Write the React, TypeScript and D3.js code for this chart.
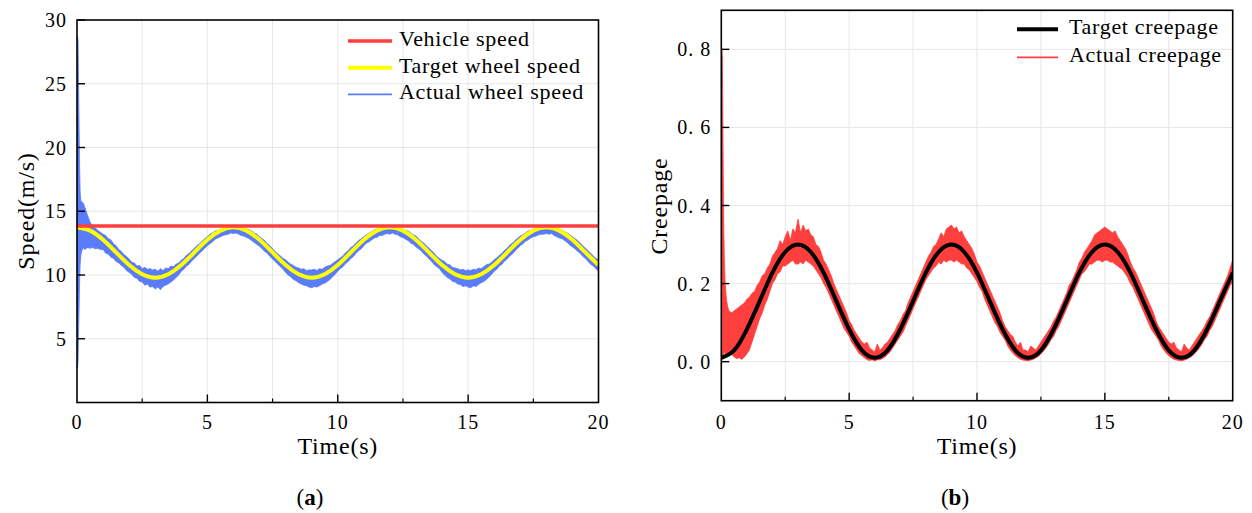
import React from 'react';
import * as d3 from 'd3';

// ---------------- data ----------------
// Panel (a): speeds in m/s
const vehicleTime = [0, 20];
const vehicleSpeed = [13.85, 13.85];

const targetTime = [0, 0.5, 1, 1.5, 2, 2.5, 3, 3.5, 4, 4.5, 5, 5.5, 6, 6.5, 7, 7.5, 8, 8.5, 9, 9.5, 10,
  10.5, 11, 11.5, 12, 12.5, 13, 13.5, 14, 14.5, 15, 15.5, 16, 16.5, 17, 17.5, 18, 18.5, 19, 19.5, 20];
const targetWheelSpeed = [13.75, 13.48, 12.76, 11.77, 10.78, 10.06, 9.79, 10.06, 10.78, 11.77, 12.76, 13.48,
  13.75, 13.48, 12.76, 11.77, 10.78, 10.06, 9.79, 10.06, 10.78, 11.77, 12.76, 13.48,
  13.75, 13.48, 12.76, 11.77, 10.78, 10.06, 9.79, 10.06, 10.78, 11.77, 12.76, 13.48,
  13.75, 13.48, 12.76, 11.77, 10.78];

// start-up transient (fine time steps)
const earlyTime = [0, 0.02, 0.04, 0.06, 0.08, 0.1, 0.12, 0.15, 0.2, 0.25, 0.3, 0.4, 0.5, 0.6, 0.7, 0.8, 0.9];
const wheelUpperEarly = [24.5, 28.7, 28.4, 25.0, 21.5, 18.5, 16.5, 15.8, 15.7, 15.6, 15.3, 14.7, 14.15, 13.85, 13.7, 13.5, 13.35];
const wheelLowerEarly = [4.0, 2.7, 3.2, 5.5, 7.5, 9.5, 10.8, 11.6, 12.0, 12.1, 12.0, 12.15, 12.1, 12.15, 12.05, 12.1, 12.0];

// envelope of the noisy actual wheel speed, t = 1.0 ... 20.0 every 0.1 s
const wheelUpper = [
  13.2, 13.1, 12.85, 12.75, 12.45, 12.3, 12.0, 11.85, 11.6, 11.45,
  11.25, 11.0, 10.95, 10.7, 10.75, 10.5, 10.6, 10.45, 10.5, 10.4,
  10.45, 10.3, 10.5, 10.35, 10.55, 10.5, 10.7, 10.65, 10.85, 10.95,
  11.15, 11.3, 11.55, 11.7, 11.9, 12.1, 12.3, 12.45, 12.65, 12.85,
  13.0, 13.2, 13.3, 13.45, 13.5, 13.6, 13.7, 13.75, 13.8, 13.8,
  13.82, 13.8, 13.78, 13.75, 13.7, 13.62, 13.55, 13.45, 13.3, 13.2,
  13.0, 12.85, 12.7, 12.45, 12.3, 12.05, 11.85, 11.65, 11.5, 11.3,
  11.2, 11.0, 10.85, 10.75, 10.6, 10.55, 10.45, 10.5, 10.35, 10.4,
  10.4, 10.45, 10.35, 10.5, 10.45, 10.6, 10.7, 10.75, 10.9, 11.05,
  11.2, 11.35, 11.5, 11.75, 11.9, 12.15, 12.3, 12.5, 12.7, 12.85,
  13.0, 13.15, 13.3, 13.4, 13.55, 13.6, 13.7, 13.72, 13.8, 13.78,
  13.8, 13.82, 13.75, 13.75, 13.68, 13.6, 13.5, 13.45, 13.3, 13.15,
  13.05, 12.85, 12.65, 12.5, 12.3, 12.1, 11.9, 11.7, 11.45, 11.3,
  11.15, 11.05, 10.85, 10.8, 10.6, 10.55, 10.5, 10.4, 10.45, 10.35,
  10.4, 10.35, 10.45, 10.4, 10.55, 10.5, 10.65, 10.8, 10.85, 11.0,
  11.2, 11.35, 11.55, 11.7, 11.95, 12.1, 12.35, 12.5, 12.7, 12.9,
  13.05, 13.15, 13.3, 13.45, 13.5, 13.62, 13.68, 13.75, 13.78, 13.8,
  13.8, 13.8, 13.78, 13.72, 13.7, 13.6, 13.52, 13.4, 13.3, 13.15,
  13.0, 12.85, 12.7, 12.5, 12.3, 12.1, 11.9, 11.7, 11.5, 11.3,
  11.2];
const wheelLower = [
  12.0, 11.7, 11.65, 11.4, 11.3, 11.05, 10.95, 10.75, 10.6, 10.35,
  10.2, 10.05, 9.8, 9.75, 9.5, 9.45, 9.2, 9.3, 9.05, 9.1,
  8.9, 9.05, 8.85, 9.1, 9.2, 9.3, 9.45, 9.6, 9.8, 10.0,
  10.3, 10.45, 10.7, 10.85, 11.1, 11.3, 11.5, 11.7, 11.9, 12.1,
  12.3, 12.45, 12.6, 12.8, 12.9, 13.0, 13.1, 13.15, 13.2, 13.3,
  13.25, 13.3, 13.2, 13.1, 13.05, 12.95, 12.85, 12.7, 12.55, 12.4,
  12.25, 12.05, 11.85, 11.7, 11.45, 11.25, 11.05, 10.85, 10.65, 10.45,
  10.2, 10.0, 9.85, 9.65, 9.55, 9.4, 9.3, 9.2, 9.15, 9.05,
  9.0, 9.1, 9.05, 9.15, 9.3, 9.35, 9.5, 9.65, 9.85, 10.05,
  10.3, 10.5, 10.65, 10.9, 11.05, 11.3, 11.45, 11.7, 11.9, 12.05,
  12.3, 12.5, 12.6, 12.75, 12.9, 12.95, 13.1, 13.1, 13.2, 13.25,
  13.2, 13.3, 13.2, 13.15, 13.0, 12.95, 12.8, 12.7, 12.5, 12.4,
  12.2, 12.05, 11.9, 11.65, 11.5, 11.25, 11.05, 10.8, 10.65, 10.5,
  10.2, 10.0, 9.8, 9.7, 9.5, 9.45, 9.3, 9.25, 9.1, 9.15,
  9.05, 9.0, 9.15, 9.1, 9.25, 9.4, 9.5, 9.65, 9.85, 10.05,
  10.3, 10.45, 10.7, 10.85, 11.1, 11.25, 11.5, 11.65, 11.9, 12.1,
  12.3, 12.45, 12.65, 12.75, 12.9, 13.0, 13.05, 13.15, 13.2, 13.2,
  13.25, 13.2, 13.25, 13.1, 13.0, 12.9, 12.85, 12.7, 12.55, 12.35,
  12.2, 12.05, 11.85, 11.7, 11.45, 11.3, 11.05, 10.85, 10.7, 10.5,
  10.3];

// Panel (b): creepage
const targetCreepage = [0.010, 0.029, 0.083, 0.155, 0.228, 0.281, 0.300, 0.281, 0.228, 0.155, 0.083, 0.029,
  0.010, 0.029, 0.083, 0.155, 0.228, 0.281, 0.300, 0.281, 0.228, 0.155, 0.083, 0.029,
  0.010, 0.029, 0.083, 0.155, 0.228, 0.281, 0.300, 0.281, 0.228, 0.155, 0.083, 0.029,
  0.010, 0.029, 0.083, 0.155, 0.228];

const creepUpperEarly = [0.72, 0.80, 0.78, 0.62, 0.45, 0.33, 0.26, 0.2, 0.16, 0.14, 0.13, 0.125, 0.13, 0.135, 0.14, 0.145, 0.15];
const creepLowerEarly = [0.01, 0.008, 0.01, 0.012, 0.015, 0.02, 0.025, 0.022, 0.018, 0.02, 0.015, 0.02, 0.012, 0.008, 0.01, 0.006, 0.012];

const creepUpper = [
  .16, .165, .175, .18, .195, .205, .22, .225, .24, .25,
  .27, .28, .29, .31, .30, .32, .335, .31, .34, .33,
  .365, .33, .35, .335, .34, .325, .32, .30, .295, .28,
  .26, .25, .235, .22, .2, .185, .17, .155, .14, .125,
  .105, .095, .08, .07, .06, .05, .045, .05, .035, .03,
  .025, .045, .03, .035, .045, .05, .06, .07, .08, .095,
  .105, .12, .13, .15, .165, .18, .195, .21, .225, .24,
  .255, .27, .28, .295, .3, .315, .33, .32, .34, .345,
  .35, .34, .345, .33, .335, .32, .31, .3, .29, .275,
  .255, .245, .23, .215, .2, .185, .17, .155, .14, .125,
  .105, .09, .08, .07, .065, .05, .04, .05, .03, .03,
  .025, .04, .035, .03, .04, .05, .06, .07, .08, .09,
  .105, .115, .13, .145, .16, .175, .195, .205, .22, .235,
  .255, .265, .28, .29, .3, .31, .325, .33, .335, .34,
  .345, .34, .335, .33, .335, .32, .31, .3, .29, .275,
  .255, .24, .23, .215, .2, .185, .17, .155, .14, .125,
  .105, .09, .08, .07, .06, .05, .045, .05, .035, .03,
  .025, .045, .035, .03, .04, .05, .06, .07, .08, .09,
  .105, .115, .13, .145, .16, .175, .19, .205, .22, .24,
  .26];
const creepLower = [
  .02, .03, .05, .07, .09, .11, .125, .145, .16, .18,
  .2, .21, .225, .23, .245, .245, .25, .255, .26, .25,
  .25, .255, .25, .26, .255, .25, .245, .235, .225, .215,
  .2, .19, .175, .16, .145, .13, .115, .1, .085, .075,
  .065, .05, .04, .03, .02, .015, .01, .005, .003, .005,
  .002, .005, .005, .008, .012, .018, .025, .035, .045, .055,
  .065, .075, .09, .105, .12, .135, .15, .165, .18, .195,
  .21, .22, .23, .24, .245, .255, .25, .26, .255, .26,
  .26, .255, .26, .255, .25, .25, .24, .235, .225, .215,
  .205, .19, .18, .16, .145, .13, .115, .1, .09, .075,
  .065, .055, .04, .03, .022, .015, .01, .006, .004, .003,
  .002, .004, .006, .01, .013, .02, .027, .035, .045, .057,
  .065, .08, .09, .105, .12, .135, .15, .165, .18, .195,
  .21, .225, .23, .24, .25, .25, .255, .26, .26, .255,
  .26, .26, .255, .255, .25, .245, .24, .235, .225, .215,
  .2, .19, .175, .16, .145, .13, .115, .1, .085, .075,
  .065, .055, .04, .03, .022, .015, .01, .006, .004, .003,
  .002, .004, .006, .01, .013, .02, .027, .035, .045, .057,
  .065, .08, .09, .105, .12, .135, .15, .165, .18, .195,
  .205];

// axis ticks
const xTicks = [0, 5, 10, 15, 20];
const xMinorTicks = [2.5, 7.5, 12.5, 17.5];
const xGrid = [2.5, 5, 7.5, 10, 12.5, 15, 17.5];
const speedTicks = [5, 10, 15, 20, 25, 30];
const speedGrid = [5, 10, 15, 20, 25];
const creepTicks = [0, 0.2, 0.4, 0.6, 0.8];
const creepTickLabels = ['0. 0', '0. 2', '0. 4', '0. 6', '0. 8'];

// ---------------- drawing ----------------
const FONT = '"Liberation Serif", "Times New Roman", Times, serif';
const BLUE = '#5b7cfa';
const YELLOW = '#ffff00';
const RED = '#ff3e3e';
const GRID = '#e6e6e6';

const mainTime = d3.range(10, 201).map((i) => i / 10);
const bandTime = earlyTime.concat(mainTime);

type Band = { t: number; lo: number; hi: number };

function makeBand(upperE: number[], lowerE: number[], upper: number[], lower: number[]): Band[] {
  const hi = upperE.concat(upper);
  const lo = lowerE.concat(lower);
  return bandTime.map((t, i) => ({ t, lo: lo[i], hi: hi[i] }));
}

const wheelBand = makeBand(wheelUpperEarly, wheelLowerEarly, wheelUpper, wheelLower);
const creepBand = makeBand(creepUpperEarly, creepLowerEarly, creepUpper, creepLower);

interface PanelProps {
  id: string;
  x: d3.ScaleLinear<number, number>;
  y: d3.ScaleLinear<number, number>;
  yTicks: number[];
  yLabels: string[];
  yGrid: number[];
  yTitle: string;
  yTitleX: number;
  yTitleY: number;
  children?: React.ReactNode;
}

function Panel({ id, x, y, yTicks, yLabels, yGrid, yTitle, yTitleX, yTitleY, children }: PanelProps) {
  const [x0, x1] = x.range();
  const [y0, y1] = y.range(); // y0 bottom, y1 top
  return (
    <g>
      <defs>
        <clipPath id={id}>
          <rect x={x0} y={y1} width={x1 - x0} height={y0 - y1} />
        </clipPath>
      </defs>
      {xGrid.map((v) => (
        <line key={'gx' + v} x1={x(v)} x2={x(v)} y1={y0} y2={y1} stroke={GRID} strokeWidth={1} />
      ))}
      {yGrid.map((v) => (
        <line key={'gy' + v} x1={x0} x2={x1} y1={y(v)} y2={y(v)} stroke={GRID} strokeWidth={1} />
      ))}
      <g clipPath={`url(#${id})`}>{children}</g>
      <rect x={x0} y={y1} width={x1 - x0} height={y0 - y1} fill="none" stroke="#000" strokeWidth={1.6} />
      {xTicks.slice(1, -1).map((v) => (
        <line key={'tx' + v} x1={x(v)} x2={x(v)} y1={y0} y2={y0 - 8} stroke="#000" strokeWidth={1.4} />
      ))}
      {xMinorTicks.map((v) => (
        <line key={'mx' + v} x1={x(v)} x2={x(v)} y1={y0} y2={y0 - 4} stroke="#000" strokeWidth={1.2} />
      ))}
      {yTicks.map((v) => (
        <line key={'ty' + v} x1={x0} x2={x0 + 8} y1={y(v)} y2={y(v)} stroke="#000" strokeWidth={1.4} />
      ))}
      {xTicks.map((v) => (
        <text key={'lx' + v} x={x(v)} y={429} textAnchor="middle" fontSize={20} fontFamily={FONT} letterSpacing={1}>
          {v}
        </text>
      ))}
      {yTicks.map((v, i) => (
        <text key={'ly' + v} x={x0 - 10} y={y(v)} dy="0.35em" textAnchor="end" fontSize={20} fontFamily={FONT} letterSpacing={1}>
          {yLabels[i]}
        </text>
      ))}
      <text x={(x0 + x1) / 2} y={454} textAnchor="middle" fontSize={24} fontFamily={FONT} letterSpacing={0.8}>
        Time(s)
      </text>
      <text transform={`translate(${yTitleX},${yTitleY}) rotate(-90)`} textAnchor="middle" fontSize={24} fontFamily={FONT} letterSpacing={0.8}>
        {yTitle}
      </text>
    </g>
  );
}

export default function App() {
  const xA = d3.scaleLinear().domain([0, 20]).range([77, 598.5]);
  const yA = d3.scaleLinear().domain([0, 30]).range([402.5, 20]);
  const xB = d3.scaleLinear().domain([0, 20]).range([721.3, 1232.7]);
  const yB = d3.scaleLinear().domain([-0.1, 0.9]).range([400.7, 10.3]);

  const bandA = d3.area<Band>().x((d) => xA(d.t)).y0((d) => yA(d.lo)).y1((d) => yA(d.hi));
  const bandB = d3.area<Band>().x((d) => xB(d.t)).y0((d) => yB(d.lo)).y1((d) => yB(d.hi));

  const targetLineA = d3
    .line<number>()
    .x((_, i) => xA(targetTime[i]))
    .y((d) => yA(d))
    .curve(d3.curveNatural);
  const vehicleLine = d3
    .line<number>()
    .x((_, i) => xA(vehicleTime[i]))
    .y((d) => yA(d));
  const targetLineB = d3
    .line<number>()
    .x((_, i) => xB(targetTime[i]))
    .y((d) => yB(d))
    .curve(d3.curveNatural);

  const legendText = { fontSize: 22, fontFamily: FONT, letterSpacing: 0.7 } as const;

  return (
    <svg width={1252} height={513} style={{ position: 'absolute', left: 0, top: 0, background: '#fff' }}>
      <rect x={0} y={0} width={1252} height={513} fill="#fff" />
      <Panel
        id="clipA"
        x={xA}
        y={yA}
        yTicks={speedTicks}
        yLabels={speedTicks.map(String)}
        yGrid={speedGrid}
        yTitle="Speed(m/s)"
        yTitleX={34}
        yTitleY={211}
      >
        <path d={bandA(wheelBand) || ''} fill={BLUE} stroke={BLUE} strokeWidth={0.8} />
        <path d={targetLineA(targetWheelSpeed) || ''} fill="none" stroke={YELLOW} strokeWidth={4} />
        <path d={vehicleLine(vehicleSpeed) || ''} fill="none" stroke={RED} strokeWidth={3.5} />
      </Panel>
      <Panel
        id="clipB"
        x={xB}
        y={yB}
        yTicks={creepTicks}
        yLabels={creepTickLabels}
        yGrid={creepTicks}
        yTitle="Creepage"
        yTitleX={667}
        yTitleY={206}
      >
        <path d={bandB(creepBand) || ''} fill={RED} stroke={RED} strokeWidth={0.8} />
        <path d={targetLineB(targetCreepage) || ''} fill="none" stroke="#000" strokeWidth={4} />
      </Panel>

      {/* legend (a) */}
      <line x1={348} x2={392} y1={41} y2={41} stroke={RED} strokeWidth={3.5} />
      <text x={399} y={46} {...legendText}>Vehicle speed</text>
      <line x1={348} x2={392} y1={67.7} y2={67.7} stroke={YELLOW} strokeWidth={4} />
      <text x={399} y={72.7} {...legendText}>Target wheel speed</text>
      <line x1={348} x2={392} y1={94.3} y2={94.3} stroke={BLUE} strokeWidth={1.8} />
      <text x={399} y={99.3} {...legendText}>Actual wheel speed</text>

      {/* legend (b) */}
      <line x1={1017} x2={1058} y1={29.3} y2={29.3} stroke="#000" strokeWidth={4} />
      <text x={1069} y={34.3} {...legendText}>Target creepage</text>
      <line x1={1017} x2={1058} y1={57.3} y2={57.3} stroke={RED} strokeWidth={1.8} />
      <text x={1069} y={61.7} {...legendText}>Actual creepage</text>

      <text x={310} y={505} textAnchor="middle" fontSize={23} fontFamily={FONT}>
        (<tspan fontWeight="bold">a</tspan>)
      </text>
      <text x={955} y={505} textAnchor="middle" fontSize={23} fontFamily={FONT}>
        (<tspan fontWeight="bold">b</tspan>)
      </text>
    </svg>
  );
}
